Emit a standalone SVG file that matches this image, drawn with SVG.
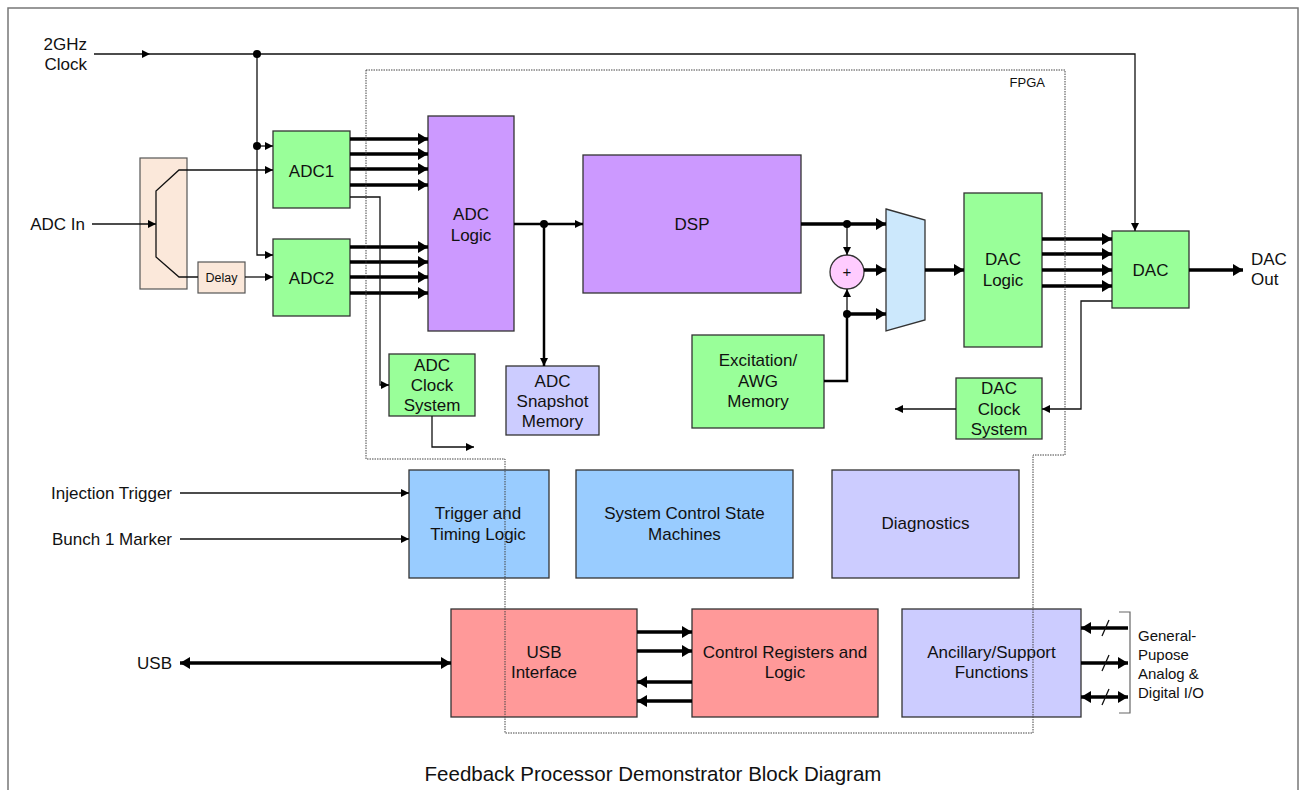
<svg xmlns="http://www.w3.org/2000/svg" width="1300" height="790" viewBox="0 0 1300 790">
  <style>
    .box { stroke: #333; stroke-width: 1.3; }
    .green { fill: #99ff99; }
    .purple { fill: #cc99ff; }
    .lav { fill: #ccccff; }
    .blue { fill: #99ccff; }
    .red { fill: #ff9999; }
    .peach { fill: #fbe8da; stroke: #555; stroke-width: 1.2; }
    text { font-family: "Liberation Sans", Arial, sans-serif; fill: #111; }
    .lbl { font-size: 17px; text-anchor: middle; }
    .side { font-size: 17px; }
    .thin { fill: none; stroke: #111; stroke-width: 1.3; }
    .thick { fill: none; stroke: #000; stroke-width: 3.5; }
    .dot { fill: #000; }
  </style>
  <defs>
    <marker id="ah" markerUnits="userSpaceOnUse" markerWidth="10" markerHeight="10" refX="8" refY="5" orient="auto">
      <path d="M0,1 L8,5 L0,9 Z" fill="#000"/>
    </marker>
    <marker id="ahb" markerUnits="userSpaceOnUse" markerWidth="14" markerHeight="14" refX="10" refY="7" orient="auto-start-reverse">
      <path d="M0,1 L10,7 L0,13 Z" fill="#000"/>
    </marker>
  </defs>

  <!-- sheet border -->
  <rect x="8" y="8" width="1290" height="800" fill="#fff" stroke="#777" stroke-width="1.5"/>

  <!-- off-board labels -->
  <g id="labels">
    <text class="side" x="87" y="50" text-anchor="end">2GHz</text>
    <text class="side" x="87" y="70" text-anchor="end">Clock</text>
    <text class="side" x="85" y="230" text-anchor="end">ADC In</text>
    <text class="side" x="1251" y="265">DAC</text>
    <text class="side" x="1251" y="285">Out</text>
    <text class="side" x="172" y="499" text-anchor="end">Injection Trigger</text>
    <text class="side" x="172" y="545" text-anchor="end">Bunch 1 Marker</text>
    <text class="side" x="172" y="669" text-anchor="end">USB</text>
    <g font-size="15">
      <text x="1138" y="641">General-</text>
      <text x="1138" y="660">Pupose</text>
      <text x="1138" y="679">Analog &amp;</text>
      <text x="1138" y="698">Digital I/O</text>
    </g>
    <text x="1045" y="87" font-size="13" text-anchor="end">FPGA</text>
    <text x="653" y="781" font-size="20.5" text-anchor="middle">Feedback Processor Demonstrator Block Diagram</text>
  </g>

  <!-- blocks -->
  <g id="splitter">
    <rect class="peach" x="140" y="158" width="47" height="131"/>
  </g>
  <g id="delay">
    <rect class="peach" x="198" y="262" width="47" height="31"/>
    <text x="221.5" y="282" font-size="12.5" text-anchor="middle">Delay</text>
  </g>
  <g id="adc1">
    <rect class="box green" x="273" y="131" width="77" height="77"/>
    <text class="lbl" x="311.5" y="176.5" font-size="18">ADC1</text>
  </g>
  <g id="adc2">
    <rect class="box green" x="273" y="239" width="77" height="77"/>
    <text class="lbl" x="311.5" y="283.5" font-size="18">ADC2</text>
  </g>
  <g id="adc-logic">
    <rect class="box purple" x="428" y="116" width="86" height="215"/>
    <text class="lbl" x="471" y="220">ADC</text>
    <text class="lbl" x="471" y="241">Logic</text>
  </g>
  <g id="adc-clock">
    <rect class="box green" x="389" y="354" width="86" height="62"/>
    <text class="lbl" x="432" y="371">ADC</text>
    <text class="lbl" x="432" y="391">Clock</text>
    <text class="lbl" x="432" y="411">System</text>
  </g>
  <g id="adc-snapshot">
    <rect class="box lav" x="506" y="366" width="93" height="69"/>
    <text class="lbl" x="552.5" y="387">ADC</text>
    <text class="lbl" x="552.5" y="407">Snapshot</text>
    <text class="lbl" x="552.5" y="427">Memory</text>
  </g>
  <g id="dsp">
    <rect class="box purple" x="583" y="155" width="218" height="138"/>
    <text class="lbl" x="692" y="230">DSP</text>
  </g>
  <g id="adder">
    <circle cx="847" cy="272" r="17" fill="#ffccff" stroke="#333" stroke-width="1.3"/>
    <text x="847" y="277" font-size="15" text-anchor="middle">+</text>
  </g>
  <g id="mux">
    <polygon points="886,209 925,220 925,320 886,331" fill="#cce8fc" stroke="#333" stroke-width="1.3"/>
  </g>
  <g id="excitation">
    <rect class="box green" x="692" y="335" width="132" height="93"/>
    <text class="lbl" x="758" y="366">Excitation/</text>
    <text class="lbl" x="758" y="387">AWG</text>
    <text class="lbl" x="758" y="407">Memory</text>
  </g>
  <g id="dac-logic">
    <rect class="box green" x="964" y="193" width="78" height="154"/>
    <text class="lbl" x="1003" y="265">DAC</text>
    <text class="lbl" x="1003" y="286">Logic</text>
  </g>
  <g id="dac">
    <rect class="box green" x="1112" y="231" width="77" height="77"/>
    <text class="lbl" x="1150.5" y="276">DAC</text>
  </g>
  <g id="dac-clock">
    <rect class="box green" x="956" y="378" width="86" height="61"/>
    <text class="lbl" x="999" y="394">DAC</text>
    <text class="lbl" x="999" y="415">Clock</text>
    <text class="lbl" x="999" y="435">System</text>
  </g>
  <g id="trigger">
    <rect class="box blue" x="409" y="470" width="140" height="108"/>
    <text class="lbl" x="478" y="519">Trigger and</text>
    <text class="lbl" x="478" y="540">Timing Logic</text>
  </g>
  <g id="state-machines">
    <rect class="box blue" x="576" y="470" width="217" height="108"/>
    <text class="lbl" x="684.5" y="519">System Control State</text>
    <text class="lbl" x="684.5" y="540">Machines</text>
  </g>
  <g id="diagnostics">
    <rect class="box lav" x="832" y="470" width="187" height="108"/>
    <text class="lbl" x="925.5" y="529">Diagnostics</text>
  </g>
  <g id="usb-interface">
    <rect class="box red" x="451" y="609" width="186" height="108"/>
    <text class="lbl" x="544" y="658">USB</text>
    <text class="lbl" x="544" y="678">Interface</text>
  </g>
  <g id="control-registers">
    <rect class="box red" x="692" y="609" width="186" height="108"/>
    <text class="lbl" x="785" y="658">Control Registers and</text>
    <text class="lbl" x="785" y="678">Logic</text>
  </g>
  <g id="ancillary">
    <rect class="box lav" x="902" y="609" width="179" height="108"/>
    <text class="lbl" x="991.5" y="658">Ancillary/Support</text>
    <text class="lbl" x="991.5" y="678">Functions</text>
  </g>

  <!-- connectors -->
  <g id="connectors">
    <!-- 2 GHz clock distribution -->
    <path class="thin" d="M94,54 H150" marker-end="url(#ah)"/>
    <path class="thin" d="M150,54 H1135 V231" marker-end="url(#ah)"/>
    <path class="thin" d="M257,54 V255 H273" marker-end="url(#ah)"/>
    <path class="thin" d="M257,146 H273" marker-end="url(#ah)"/>
    <circle class="dot" cx="257" cy="54" r="4"/>
    <circle class="dot" cx="257" cy="146" r="4"/>

    <!-- analog input and splitter -->
    <path class="thin" d="M92,224 H156" marker-end="url(#ah)"/>
    <path class="thin" d="M198,277 H179 L156,257 V191 L179,170 H273" marker-end="url(#ah)"/>
    <path class="thin" d="M245,277 H273" marker-end="url(#ah)"/>

    <!-- ADC data buses -->
    <path class="thick" d="M350,139 H428" marker-end="url(#ahb)"/>
    <path class="thick" d="M350,154 H428" marker-end="url(#ahb)"/>
    <path class="thick" d="M350,169 H428" marker-end="url(#ahb)"/>
    <path class="thick" d="M350,185 H428" marker-end="url(#ahb)"/>
    <path class="thick" d="M350,247 H428" marker-end="url(#ahb)"/>
    <path class="thick" d="M350,262 H428" marker-end="url(#ahb)"/>
    <path class="thick" d="M350,277 H428" marker-end="url(#ahb)"/>
    <path class="thick" d="M350,293 H428" marker-end="url(#ahb)"/>

    <!-- ADC clock system -->
    <path class="thin" d="M350,197 H380 V385 H389" marker-end="url(#ah)"/>
    <path class="thin" d="M432,416 V447 H474" marker-end="url(#ah)"/>

    <!-- ADC logic to DSP and snapshot -->
    <path class="thick" style="stroke-width:2.5" d="M514,224 H583" marker-end="url(#ah)"/>
    <path class="thick" style="stroke-width:2.5" d="M544,224 V366" marker-end="url(#ah)"/>
    <circle class="dot" cx="544" cy="224" r="4"/>

    <!-- DSP output, adder and mux -->
    <path class="thick" d="M801,224 H886" marker-end="url(#ahb)"/>
    <path class="thin" d="M847,224 V255" marker-end="url(#ah)"/>
    <path class="thick" d="M864,270 H886" marker-end="url(#ahb)"/>
    <path class="thin" d="M847,314 V289" marker-end="url(#ah)"/>
    <path class="thick" d="M847,314 H886" marker-end="url(#ahb)"/>
    <path class="thick" style="stroke-width:2.5" d="M824,381 H847 V314"/>
    <circle class="dot" cx="847" cy="224" r="4"/>
    <circle class="dot" cx="847" cy="314" r="4"/>
    <path class="thick" d="M925,270 H964" marker-end="url(#ahb)"/>

    <!-- DAC buses -->
    <path class="thick" d="M1042,239 H1112" marker-end="url(#ahb)"/>
    <path class="thick" d="M1042,254 H1112" marker-end="url(#ahb)"/>
    <path class="thick" d="M1042,270 H1112" marker-end="url(#ahb)"/>
    <path class="thick" d="M1042,286 H1112" marker-end="url(#ahb)"/>
    <path class="thick" d="M1189,270 H1243" marker-end="url(#ahb)"/>

    <!-- DAC clock system -->
    <path class="thin" d="M1112,301 H1081 V409 H1042" marker-end="url(#ah)"/>
    <path class="thin" d="M956,409 H895" marker-end="url(#ah)"/>

    <!-- timing inputs -->
    <path class="thin" d="M180,493 H409" marker-end="url(#ah)"/>
    <path class="thin" d="M180,539 H409" marker-end="url(#ah)"/>

    <!-- USB -->
    <path class="thick" d="M180,663 H451" marker-start="url(#ahb)" marker-end="url(#ahb)"/>
    <path class="thick" d="M637,632 H692" marker-end="url(#ahb)"/>
    <path class="thick" d="M637,651 H692" marker-end="url(#ahb)"/>
    <path class="thick" d="M692,682 H637" marker-end="url(#ahb)"/>
    <path class="thick" d="M692,701 H637" marker-end="url(#ahb)"/>

    <!-- general purpose I/O -->
    <path class="thick" d="M1128,628 H1081" marker-end="url(#ahb)"/>
    <path class="thick" d="M1081,663 H1128" marker-end="url(#ahb)"/>
    <path class="thick" d="M1081,697 H1128" marker-start="url(#ahb)" marker-end="url(#ahb)"/>
    <path class="thin" d="M1102,636 L1109,620 M1102,671 L1109,655 M1102,705 L1109,689"/>
    <path fill="none" stroke="#666" stroke-width="1.2" d="M1119,612 H1130 V713 H1119"/>
  </g>

  <!-- FPGA boundary -->
  <g id="fpga">
    <path d="M366,70 H1065 V455 H1033 V733 H505 V459 H366 Z" fill="none" stroke="#444" stroke-width="1" stroke-dasharray="1.5 1"/>
  </g>
</svg>
